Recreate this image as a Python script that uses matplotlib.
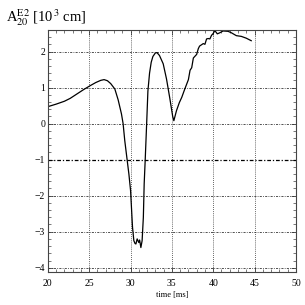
import numpy as np
import matplotlib.pyplot as plt
from matplotlib.ticker import MultipleLocator

# Amplitude (time in ms, A in 10^3 cm)
time_ms = [20.0, 21.0, 22.0, 22.7, 23.5, 24.3, 25.1, 25.8, 26.4, 26.8, 27.2,
           27.6, 28.1, 28.5, 28.9, 29.1, 29.3, 29.45, 29.6, 29.8, 30.0, 30.24,
           30.4, 30.55, 30.65, 30.8, 31.0, 31.1, 31.25, 31.4, 31.55, 31.65,
           31.77, 31.95, 32.1, 32.3, 32.5, 32.7, 33.0, 33.2, 33.5, 33.95,
           34.35, 34.76, 35.1, 35.24, 35.4, 35.56, 35.9, 36.2, 36.5, 36.8,
           37.0, 37.2, 37.4, 37.6, 38.0, 38.2, 38.35, 38.8, 39.0, 39.2, 39.4,
           39.6, 39.8, 40.0, 40.2, 40.5, 40.8, 41.2, 41.8, 42.2, 42.8, 43.4,
           44.0, 44.6]
amp = [0.47, 0.54, 0.62, 0.70, 0.82, 0.94, 1.05, 1.14, 1.20, 1.22, 1.19,
       1.11, 0.96, 0.66, 0.27, 0.00, -0.47, -0.75, -1.03, -1.40, -1.85, -2.88,
       -3.25, -3.33, -3.34, -3.20, -3.30, -3.23, -3.44, -3.25, -2.60, -1.67,
       -1.03, 0.00, 0.90, 1.40, 1.70, 1.86, 1.96, 1.97, 1.89, 1.66,
       1.24, 0.69, 0.20, 0.08, 0.22, 0.36, 0.58, 0.73, 0.92, 1.10,
       1.22, 1.48, 1.55, 1.82, 1.92, 2.08, 2.15, 2.22, 2.20, 2.35, 2.36,
       2.35, 2.45, 2.50, 2.58, 2.49, 2.52, 2.57, 2.56, 2.52, 2.44, 2.42,
       2.37, 2.30]

x_ticks = [20, 25, 30, 35, 40, 45, 50]
y_ticks = [-4, -3, -2, -1, 0, 1, 2]

plt.rcParams['font.family'] = ['Liberation Serif', 'DejaVu Serif']
plt.rcParams['mathtext.fontset'] = 'stix'

fig = plt.figure(figsize=(3.05, 3.05), dpi=100)
ax = fig.add_axes([0.157, 0.108, 0.813, 0.794])

# grid: dotted verticals, dash-dot horizontals, bold line at -1
for x in x_ticks[1:-1]:
    ax.axvline(x, color='#333333', linestyle=(0, (1, 1.5)), linewidth=0.6)
for y in y_ticks:
    if y == -1:
        ax.axhline(y, color='black', linestyle=(0, (3, 1.5, 1, 1.5)), linewidth=0.9)
    else:
        ax.axhline(y, color='#333333', linestyle=(0, (2.5, 1.5, 1, 1.5)), linewidth=0.6)

ax.plot(time_ms, amp, color='black', linewidth=0.9)

ax.set_xlim(20, 50)
ax.set_ylim(-4.12, 2.6)
ax.set_xticks(x_ticks)
ax.set_yticks(y_ticks)
ax.xaxis.set_minor_locator(MultipleLocator(1))
ax.yaxis.set_minor_locator(MultipleLocator(0.2))
ax.tick_params(which='both', direction='in', top=True, right=True,
               labelsize=7, color='#444444')
ax.tick_params(which='major', length=3.5, width=0.6)
ax.tick_params(which='minor', length=2, width=0.5)
ax.tick_params(axis='x', pad=5)
ax.tick_params(axis='y', pad=2)
for s in ax.spines.values():
    s.set_color('#444444')
    s.set_linewidth(0.8)

ax.set_xlabel('time [ms]', fontsize=6, labelpad=2)
fig.text(0.02, 0.975, r'A$_{20}^{\rm E2}$ [10$^{\,3}$ cm]', fontsize=10.5,
         ha='left', va='top')

plt.savefig('out.png', dpi=100)
